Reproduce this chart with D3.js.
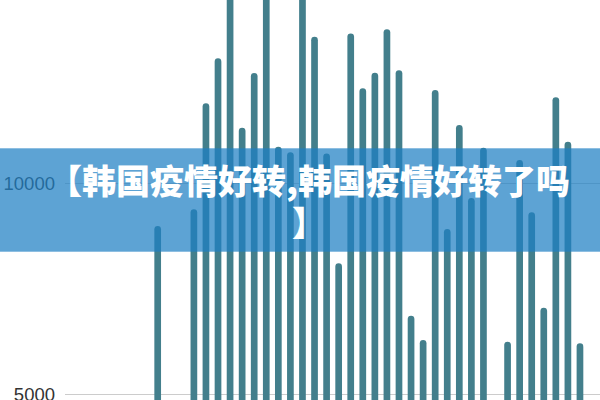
<!DOCTYPE html>
<html>
<head>
<meta charset="utf-8">
<script src="https://cdn.jsdelivr.net/npm/d3@7"></script>
<style>
  html, body { margin: 0; padding: 0; background: #fff; }
  svg { display: block; }
</style>
</head>
<body>
<svg id="chart" width="600" height="400"></svg>
<script>
// ---- data (first 7 slots show no visible bar) ----
const categories = d3.range(1, 44).map(d => "D" + d);
const values = [
  null, null, null, null, null, null, null,
  8980, 4500, 4400, 9380, 11890, 12950, 14800, 11310, 12600, 14600,
  10860, 10730, 14500, 13460, 10700, 8100, 13540, 12240, 12610, 13640,
  12670, 6860, 6285, 12200, 8910, 11370, 9645, 10835, 4500, 6245,
  10544, 9307, 7050, 12030, 10977, 6207
];
const yTicks = [5000, 10000];
const tickLabels = ["5000", "10000"];
const titleLines = ["【韩国疫情好转,韩国疫情好转了吗", "】"];

const data = categories.map((c, i) => ({ c, v: values[i] }));

const svg = d3.select("#chart");

const x = d3.scaleBand().domain(categories).range([67.2, 586]).paddingInner(0.445).paddingOuter(0.2225);
const y = d3.scaleLinear().domain([5000, 10000]).range([394.3, 183]);

// gridlines
svg.append("g").selectAll("line").data(yTicks).join("line")
  .attr("x1", 65).attr("x2", 600)
  .attr("y1", d => Math.round(y(d)) + 0.5).attr("y2", d => Math.round(y(d)) + 0.5)
  .attr("stroke", "#cccccc").attr("stroke-width", 1);

// tick labels
svg.append("g").selectAll("text").data(yTicks).join("text")
  .attr("x", 55).attr("y", d => y(d))
  .attr("text-anchor", "end").attr("dominant-baseline", "central")
  .attr("font-family", "'Liberation Sans', Arial, sans-serif")
  .attr("font-size", 18.5).attr("fill", "#333")
  .text((d, i) => tickLabels[i]);

// bars
svg.append("g").selectAll("rect").data(data.filter(d => d.v != null)).join("rect")
  .attr("x", d => x(d.c))
  .attr("width", x.bandwidth())
  .attr("y", d => y(d.v))
  .attr("height", d => y(0) - y(d.v) + 10)
  .attr("rx", x.bandwidth() / 2)
  .attr("fill", "#437f8c");

// banner overlay
svg.append("rect").attr("x", 0).attr("y", 148.3).attr("width", 600).attr("height", 103.4)
  .attr("fill", "rgb(31,128,196)").attr("fill-opacity", 0.72);

svg.append("g").selectAll("text").data(titleLines).join("text")
  .attr("x", 309).attr("y", (d, i) => 179 + i * 42)
  .attr("text-anchor", "middle").attr("dominant-baseline", "central")
  .attr("font-family", "'Noto Sans CJK SC', sans-serif")
  .attr("font-weight", 900).attr("font-size", 34).attr("fill", "#fff")
  .text(d => d);
</script>
</body>
</html>
